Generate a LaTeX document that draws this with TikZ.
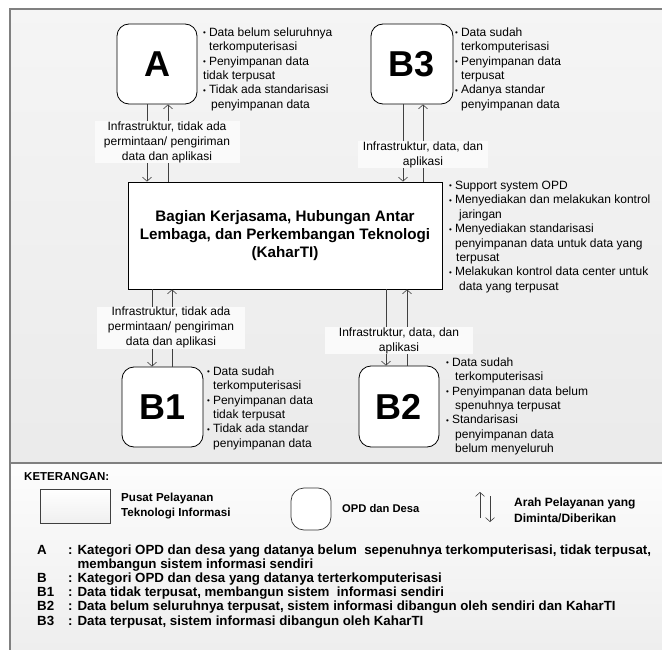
\documentclass[tikz,border=0pt]{standalone}
\usepackage{fontspec}
\setmainfont{Liberation Sans}
\usetikzlibrary{arrows.meta}
\newcommand{\bu}{{\fontsize{8}{8}\selectfont\raisebox{0.6pt}{•}}\hspace{3pt}}
\begin{document}
\begin{tikzpicture}[x=1pt,y=-1pt,
  opd/.style={draw=black, line width=0.8pt, fill=white, rounded corners=12pt, inner sep=0pt,
    font=\fontsize{36}{40}\selectfont\bfseries},
  pusat/.style={draw=black, line width=0.8pt, fill=white, inner sep=0pt, align=center,
    font=\fontsize{15.2}{18}\selectfont\bfseries},
  arr/.style={draw=black!75, line width=0.6pt, -{Straight Barb[length=4pt,width=9pt]}},
  lbl/.style={fill=white!98!black, inner sep=0pt, align=center, font=\fontsize{12}{15}\selectfont},
  bul/.style={anchor=north west, inner sep=0pt, align=left, font=\fontsize{12}{14.4}\selectfont},
  leg/.style={inner sep=0pt, align=left, font=\fontsize{12}{14.4}\selectfont\bfseries},
]
\useasboundingbox (0,0) rectangle (662,650);
% panels
\shade[top color=white!96!black, bottom color=white!92!black] (10,9) rectangle (672,463);
\shade[top color=white!99!black, bottom color=white!93!black] (10,463) rectangle (672,660);
\draw[draw=black!50, line width=1.3pt] (672,9) -- (10,9) -- (10,660);
\draw[draw=black!50, line width=1.3pt] (10,463) -- (672,463);

% central node
\node[pusat, minimum width=314pt, minimum height=107pt] (main) at (285,235.5)
  {Bagian Kerjasama, Hubungan Antar\\Lembaga, dan Perkembangan Teknologi\\(KaharTI)};

% OPD nodes
\node[opd, minimum width=80pt, minimum height=80pt] (A) at (157,64) {A};
\node[opd, minimum width=82pt, minimum height=80pt] (B3) at (412,64) {B3};
\node[opd, minimum width=81pt, minimum height=80pt] (B1) at (162.5,407) {B1};
\node[opd, minimum width=80pt, minimum height=81pt] (B2) at (399,406.5) {B2};

% connectors
\draw[arr] ([xshift=-10pt]A.south) -- ([xshift=-10pt]A.south |- main.north);
\draw[arr] ([xshift=11pt]A.south |- main.north) -- ([xshift=11pt]A.south);
\draw[arr] ([xshift=-9pt]B3.south) -- ([xshift=-9pt]B3.south |- main.north);
\draw[arr] ([xshift=11pt]B3.south |- main.north) -- ([xshift=11pt]B3.south);
\draw[arr] ([xshift=-10.5pt]B1.north |- main.south) -- ([xshift=-10.5pt]B1.north);
\draw[arr] ([xshift=9.5pt]B1.north) -- ([xshift=9.5pt]B1.north |- main.south);
\draw[arr] ([xshift=-13pt]B2.north |- main.south) -- ([xshift=-13pt]B2.north);
\draw[arr] ([xshift=8pt]B2.north) -- ([xshift=8pt]B2.north |- main.south);

% connector labels
\node[lbl, minimum width=145pt, minimum height=42pt] (la) at (167,142)
  {Infrastruktur, tidak ada\\permintaan/ pengiriman\\data dan aplikasi};
\node[lbl, minimum width=130pt, minimum height=27pt] (lb3) at (423,155)
  {Infrastruktur, data, dan\\aplikasi};
\node[lbl, minimum width=148pt, minimum height=42pt] (lb1) at (171,327.5)
  {Infrastruktur, tidak ada\\permintaan/ pengiriman\\data dan aplikasi};
\node[lbl, minimum width=148pt, minimum height=27pt] (lb2) at (399,340.5)
  {Infrastruktur, data, dan\\aplikasi};

% bullet texts
\node[bul] (ta) at (203,27.5) {\bu Data belum seluruhnya\\\hspace{6pt}terkomputerisasi\\\bu Penyimpanan data\\tidak terpusat\\\bu Tidak ada standarisasi\\\hspace{8pt}penyimpanan data};
\node[bul] (tb3) at (455,27.5) {\bu Data sudah\\\hspace{6pt}terkomputerisasi\\\bu Penyimpanan data\\\hspace{6pt}terpusat\\\bu Adanya standar\\\hspace{6pt}penyimpanan data};
\node[bul] (tm) at (449,181) {\bu Support system OPD\\\bu Menyediakan dan melakukan kontrol\\\hspace{10pt}jaringan\\\bu Menyediakan standarisasi\\\hspace{6pt}penyimpanan data untuk data yang\\\hspace{7pt}terpusat\\\bu Melakukan kontrol data center untuk\\\hspace{10pt}data yang terpusat};
\node[bul] (tb1) at (207,366.5) {\bu Data sudah\\\hspace{6pt}terkomputerisasi\\\bu Penyimpanan data\\\hspace{6pt}tidak terpusat\\\bu Tidak ada standar\\\hspace{6pt}penyimpanan data};
\node[bul] (tb2) at (446,357.5) {\bu Data sudah\\\hspace{9pt}terkomputerisasi\\\bu Penyimpanan data belum\\\hspace{9pt}spenuhnya terpusat\\\bu Standarisasi\\\hspace{9pt}penyimpanan data\\\hspace{9pt}belum menyeluruh};

% legend
\node[leg, anchor=west, font=\fontsize{11.5}{14}\selectfont\bfseries] (ket) at (24,477) {KETERANGAN:};
\node[draw=black!75, line width=0.7pt, top color=white, bottom color=white!94!black,
  minimum width=70pt, minimum height=34pt, inner sep=0pt] (lrect) at (75,506) {};
\node[leg, anchor=north west, font=\fontsize{11.6}{15}\selectfont\bfseries] (lrectt) at (121,492.5) {Pusat Pelayanan\\Teknologi Informasi};
\node[draw=black!80, line width=0.7pt, fill=white, rounded corners=13pt,
  minimum width=40pt, minimum height=42pt, inner sep=0pt] (lround) at (311,509) {};
\node[leg, anchor=west, font=\fontsize{11.2}{14}\selectfont\bfseries] (lroundt) at (342,508) {OPD dan Desa};
\coordinate (u1) at (480,518);
\coordinate (u2) at (480,492);
\coordinate (d1) at (490,496);
\coordinate (d2) at (490,522);
\draw[arr] (u1) -- (u2);
\draw[arr] (d1) -- (d2);
\node[leg, anchor=north west, font=\fontsize{12}{15.5}\selectfont\bfseries] (larrt) at (514,498) {Arah Pelayanan yang\\Diminta/Diberikan};

% definitions
\node[leg, anchor=north west, font=\fontsize{13.3}{14.2}\selectfont\bfseries] (defs) at (37,544)
  {\begin{tabular}{@{}p{31pt}@{}l@{}}
   A  & : Kategori OPD dan desa yang datanya belum \ sepenuhnya terkomputerisasi, tidak terpusat,\\
      & \phantom{: }membangun sistem informasi sendiri\\
   B  & : Kategori OPD dan desa yang datanya terterkomputerisasi\\
   B1 & : Data tidak terpusat, membangun sistem \ informasi sendiri\\
   B2 & : Data belum seluruhnya terpusat, sistem informasi dibangun oleh sendiri dan KaharTI\\
   B3 & : Data terpusat, sistem informasi dibangun oleh KaharTI
   \end{tabular}};
\end{tikzpicture}
\end{document}
